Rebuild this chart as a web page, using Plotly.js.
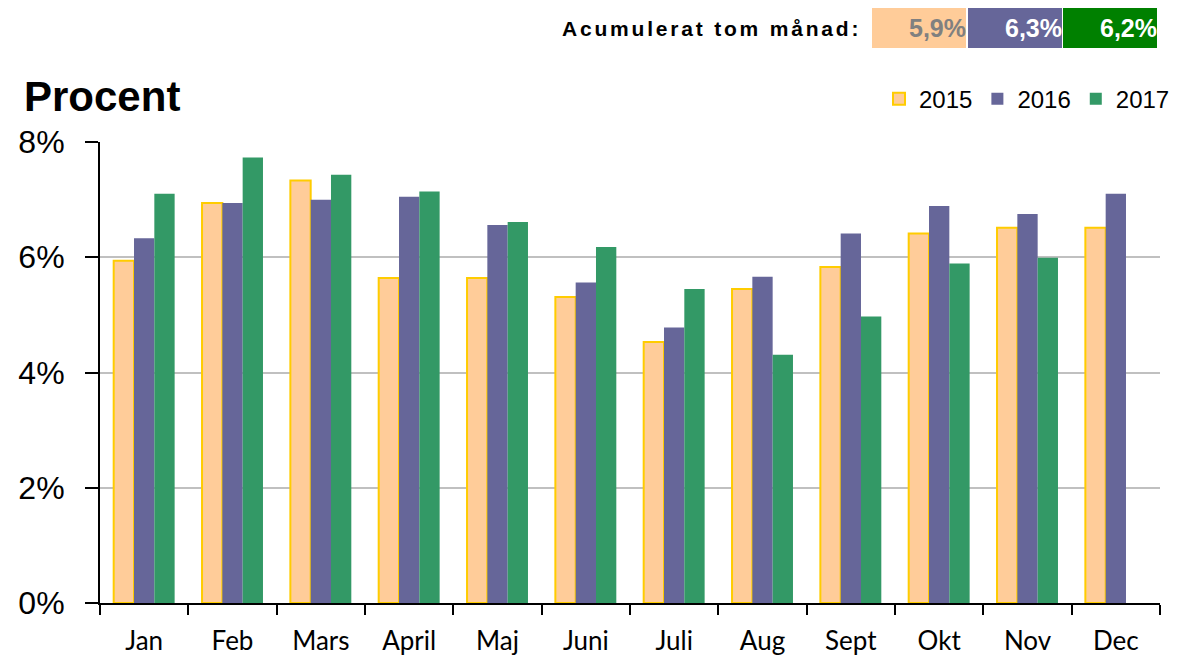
<!DOCTYPE html>
<html>
<head>
<meta charset="utf-8">
<script src="https://cdn.plot.ly/plotly-3.0.1.min.js"></script>
<style>html,body{margin:0;padding:0;background:#fff;}</style>
</head>
<body>
<div id="chart" style="width:1177px;height:656px;"></div>
<script>
const months = ["Jan","Feb","Mars","April","Maj","Juni","Juli","Aug","Sept","Okt","Nov","Dec"];
const v2015 = [5.94, 6.94, 7.33, 5.64, 5.64, 5.31, 4.53, 5.45, 5.83, 6.41, 6.51, 6.51];
const v2016 = [6.33, 6.94, 7.00, 7.05, 6.56, 5.56, 4.78, 5.66, 6.41, 6.89, 6.75, 7.10];
const v2017 = [7.10, 7.73, 7.43, 7.14, 6.61, 6.18, 5.45, 4.31, 4.97, 5.89, 5.99, null];
const seriesNames = ["2015","2016","2017"];
const accLabel = "Acumulerat tom månad:";
const accValues = ["5,9%","6,3%","6,2%"];
const yTicks = [0,2,4,6,8];
const yTickText = ["0%","2%","4%","6%","8%"];

const traces = [
  {type:'bar', name:seriesNames[0], x:months, y:v2015,
   marker:{color:'#FFCC99', line:{color:'#FFCC00', width:2}}},
  {type:'bar', name:seriesNames[1], x:months, y:v2016,
   marker:{color:'#666699', line:{width:0}}},
  {type:'bar', name:seriesNames[2], x:months, y:v2017,
   marker:{color:'#339966', line:{width:0}}}
];

const boxColors = ['#FFCC99','#666699','#008000'];
const boxText = ['#808080','#FFFFFF','#FFFFFF'];
const boxX = [0.7731, 0.8632, 0.9533];
const annotations = [
  {xref:'paper', yref:'paper', x:-0.074, y:1.098, xanchor:'left', yanchor:'middle',
   text:'<b>Procent</b>', showarrow:false,
   font:{family:'Liberation Sans, Arial', size:42, color:'#000'}},
  {xref:'paper', yref:'paper', x:0.7198, y:1.247, xanchor:'right', yanchor:'middle',
   text:'<b><span style="letter-spacing:2.8px">'+accLabel+'</span></b>', showarrow:false,
   font:{family:'Liberation Sans, Arial', size:21, color:'#000'}}
];
accValues.forEach((t,i)=>{
  annotations.push({xref:'paper', yref:'paper', x:boxX[i], y:1.247, xanchor:'center', yanchor:'middle',
    width:94, height:40, bgcolor:boxColors[i], borderpad:0, borderwidth:0, align:'right',
    text:'<b>'+t+'</b>', showarrow:false,
    font:{family:'Liberation Sans, Arial', size:25, color:boxText[i]}});
});

const layout = {
  width:1177, height:656,
  margin:{l:100, r:17, t:142, b:53},
  paper_bgcolor:'#fff', plot_bgcolor:'#fff',
  barmode:'group', bargap:0.31, bargroupgap:0,
  showlegend:true,
  legend:{orientation:'h', xref:'container', yref:'container', x:0.9983, xanchor:'right', y:0.849, yanchor:'middle',
    font:{family:'Liberation Sans, Arial', size:24, color:'#000'}, traceorder:'normal'},
  xaxis:{type:'category', showline:true, linecolor:'#000', linewidth:2,
    ticks:'outside', tickson:'boundaries', ticklen:10, tickwidth:2, tickcolor:'#000',
    tickfont:{family:'Lato, Liberation Sans', size:26, color:'#000'},
    ticklabelstandoff:14, automargin:false,
    showgrid:false, zeroline:false},
  yaxis:{range:[0,8], tickvals:yTicks, ticktext:yTickText, showline:true, linecolor:'#000', linewidth:2,
    ticks:'outside', ticklen:13, tickwidth:2, tickcolor:'#000',
    tickfont:{family:'Liberation Sans, Arial', size:32, color:'#000'},
    ticklabelstandoff:14, automargin:false,
    showgrid:true, gridcolor:'#C0C0C0', gridwidth:2, zeroline:false},
  annotations:annotations
};
Plotly.newPlot('chart', traces, layout, {displayModeBar:false, staticPlot:true});
</script>
</body>
</html>
